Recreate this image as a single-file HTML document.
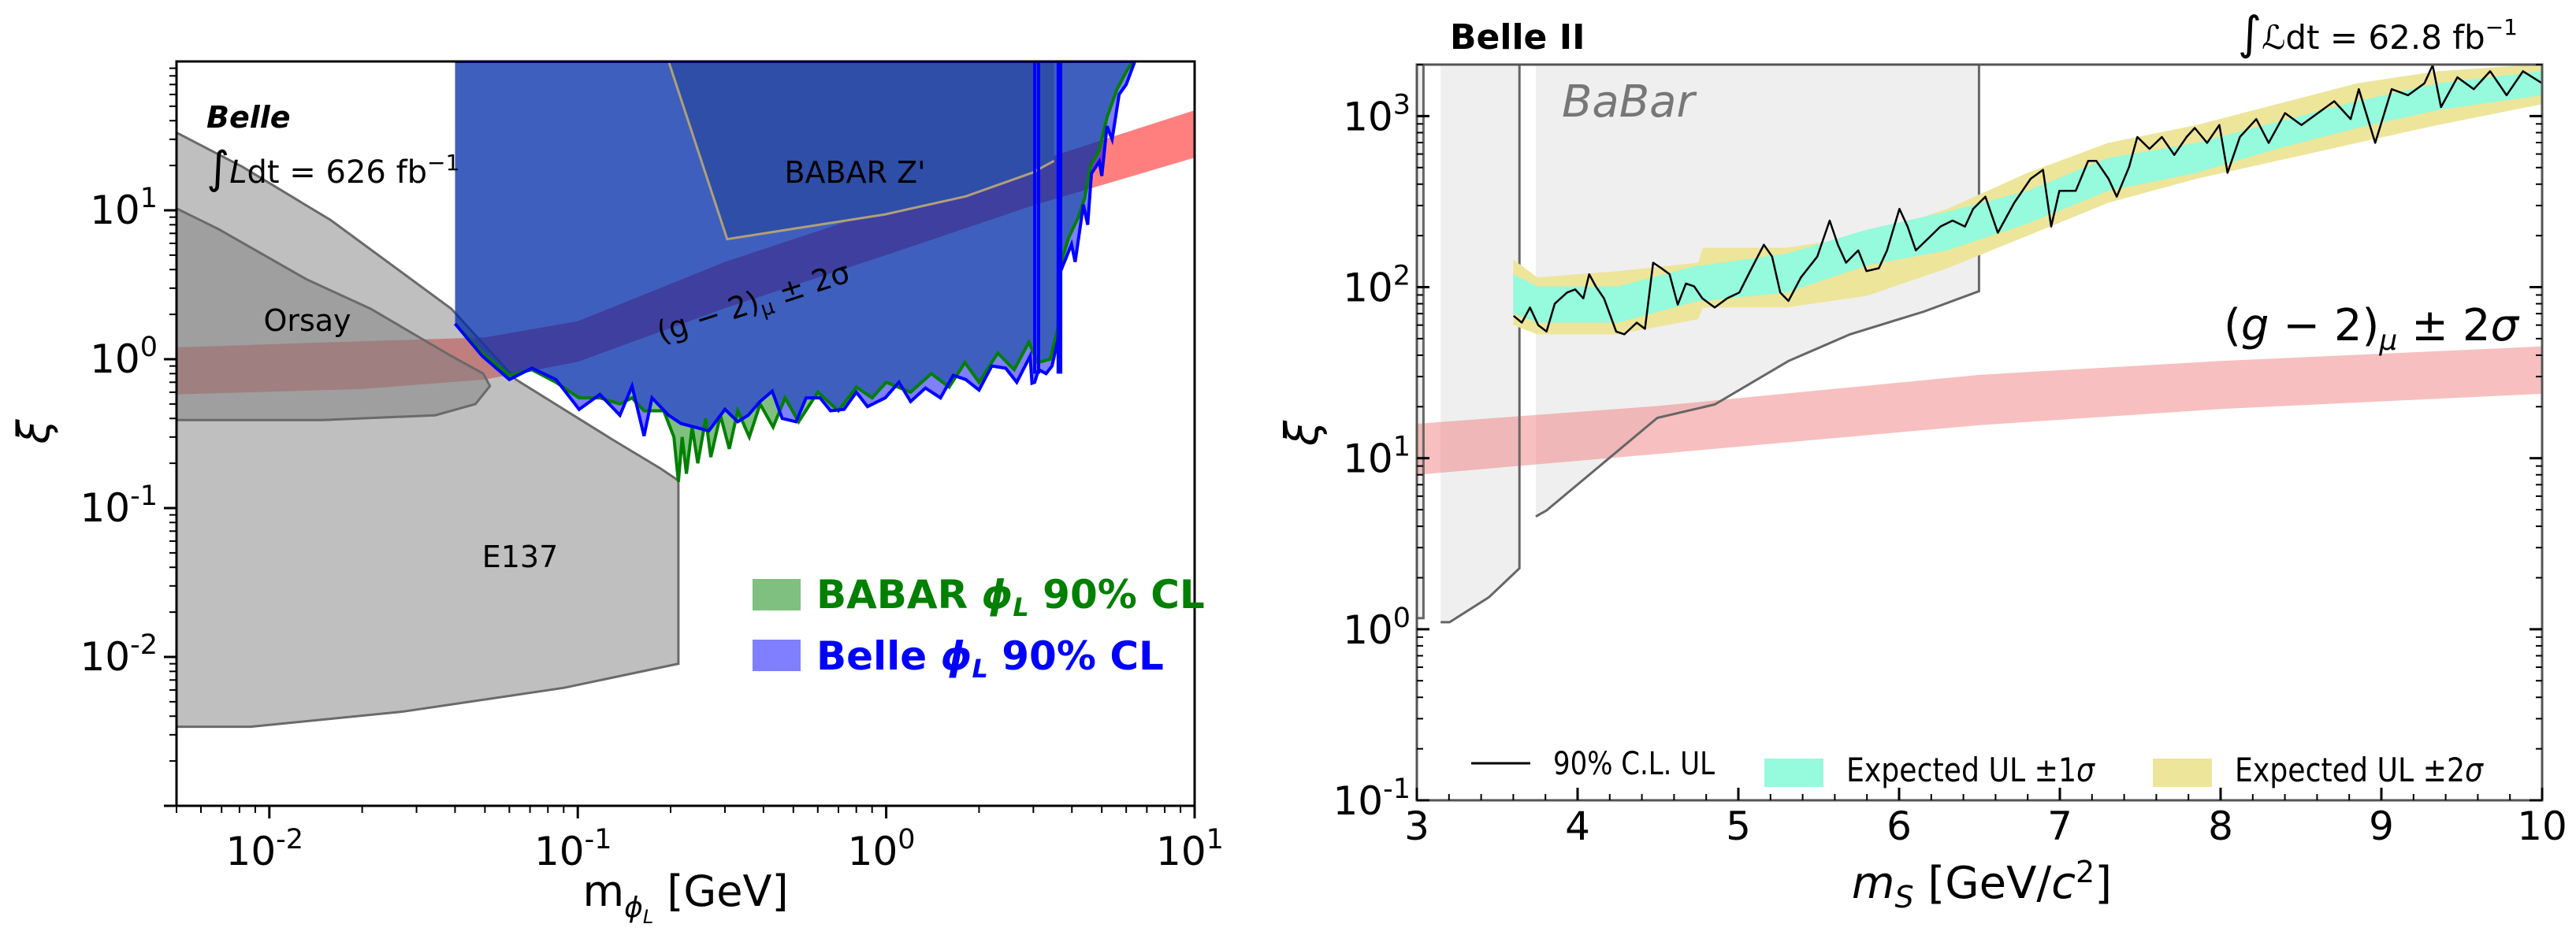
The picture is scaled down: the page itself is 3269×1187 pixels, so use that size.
<!DOCTYPE html>
<html><head><meta charset="utf-8">
<style>
html,body{margin:0;padding:0;background:#fff;}
svg{display:block;font-family:"DejaVu Sans","Liberation Sans",sans-serif;}
</style></head>
<body>
<svg id="fig" xmlns="http://www.w3.org/2000/svg" width="3269" height="1187" viewBox="0 0 3269 1187">
<defs>
<clipPath id="clipL"><rect x="224" y="78" width="1292" height="945"/></clipPath>
<clipPath id="clipR"><rect x="1798" y="82" width="1428" height="934"/></clipPath>
</defs>
<rect width="3269" height="1187" fill="#fff"/>
<g id="left"></g>
<g id="right"></g>
</svg>
<script>
// ---------- LEFT CHART DATA ----------
const g2Mass=[0.005,0.02,0.05,0.1,0.3,1,3,10];
const g2Lo=[0.58,0.63,0.73,0.96,2.2,5.0,10.8,22.6];
const g2Hi=[1.2,1.32,1.4,1.8,4.5,10.3,21,47];
const e137Mass=[0.005,0.00818,0.0158,0.0389,0.063,0.129,0.185,0.212,0.212,0.0902,0.0272,0.0087,0.005];
const e137Xi=[33.3,19.6,8.6,2.18,0.73,0.29,0.185,0.153,0.0090,0.0062,0.0043,0.0034,0.0034];
const orsayMass=[0.005,0.00682,0.0132,0.0213,0.0389,0.0494,0.0519,0.0466,0.0345,0.0149,0.005];
const orsayXi=[10.3,7.5,3.44,2.18,1.05,0.80,0.66,0.50,0.42,0.39,0.39];
const zpMass=[0.197,0.305,0.993,1.81,2.98,3.5,3.5];
const zpXi=[100,6.4,9.4,12.4,17.9,21.5,100];
const belleMass=[0.040,0.049,0.060,0.071,0.085,0.101,0.118,0.137,0.150,0.164,0.174,0.197,0.216,0.266,0.300,0.33,0.357,0.39,0.427,0.46,0.510,0.55,0.610,0.66,0.730,0.8,0.87,0.993,1.1,1.2,1.34,1.5,1.65,1.81,2.0,2.2,2.44,2.65,2.93,2.97,3.03,3.12,3.3,3.45,3.61,3.66,3.99,4.1,4.36,4.5,4.63,4.91,5.0,5.2,5.4,5.69,6.0,6.4];
const belleXi=[1.73,1.05,0.73,0.87,0.73,0.46,0.58,0.42,0.66,0.305,0.55,0.42,0.37,0.33,0.46,0.38,0.42,0.52,0.61,0.40,0.38,0.55,0.55,0.45,0.46,0.6,0.48,0.55,0.7,0.52,0.64,0.55,0.78,0.73,0.62,0.9,0.87,0.7,1.05,0.69,0.7,0.85,0.8,0.9,1.38,3.8,5.9,4.5,10.9,8,17.7,21.3,17,36.8,30,60,70,100];
const babarMass=[0.040,0.049,0.060,0.071,0.085,0.101,0.118,0.137,0.150,0.164,0.19,0.205,0.212,0.218,0.225,0.235,0.245,0.26,0.27,0.29,0.31,0.33,0.36,0.39,0.43,0.47,0.52,0.6,0.7,0.8,0.9,1.0,1.2,1.4,1.6,1.8,2.0,2.3,2.6,2.9,3.1,3.4,3.6,3.66,3.9,4.2,4.4,4.6,4.9,5.2,5.6,6.0,6.3];
const babarXi=[1.73,1.1,0.78,0.85,0.7,0.55,0.55,0.5,0.55,0.45,0.45,0.3,0.15,0.3,0.17,0.35,0.2,0.4,0.22,0.42,0.25,0.45,0.3,0.5,0.35,0.55,0.38,0.6,0.45,0.65,0.55,0.7,0.6,0.8,0.65,0.95,0.7,1.1,0.85,1.3,0.95,1.0,1.6,4.2,6.5,9,12,20,25,42,65,85,100];
const vetoMass=[3.03,3.12,3.61,3.68];
const lxTicks=[0.01,0.1,1,10];
const lxLabels=["-2","-1","0","1"];
const lyTicks=[0.01,0.1,1,10];
const lyLabels=["-2","-1","0","1"];

// ---------- RIGHT CHART DATA ----------
const babarRM1=[3.0,3.041,3.041,3.0];
const babarRX1=[2000,2000,1.16,1.16];
const babarRM2=[3.148,3.148,3.204,3.449,3.638,3.638];
const babarRX2=[2000,1.10,1.10,1.54,2.27,2000];
const babarRM3=[3.74,3.74,3.807,4.496,4.853,5.312,5.695,6.155,6.497,6.497];
const babarRX3=[2000,4.56,4.95,17.2,20.6,37,53,72,94.7,2000];
const rg2Mass=[3,4.5,6.5,8,10];
const rg2Lo=[8.0,10.6,15.6,19.4,23.8];
const rg2Hi=[15.9,20.2,30.7,37,45];
const bandMass=[3.6,3.75,4.25,4.75,4.78,5.3,5.8,6.3,6.8,7.3,7.85,8.35,8.85,9.35,10];
const y2Lo=[60,53,53,65,76,76,89,129,200,311,430,547,697,887,1175];
const y2Hi=[145,114,124,139,170,170,200,287,466,697,887,1175,1556,1829,2014];
const g1Lo=[70,62,62,83,83,93,134,164,235,366,466,643,852,1084,1324];
const g1Hi=[119,101,101,134,134,157,217,276,366,569,697,923,1222,1556,1829];
const obsMass=[3.602,3.653,3.704,3.755,3.807,3.858,3.934,3.985,4.036,4.072,4.113,4.164,4.24,4.291,4.368,4.419,4.47,4.521,4.572,4.623,4.674,4.725,4.776,4.853,4.93,5.006,5.083,5.159,5.21,5.261,5.312,5.389,5.491,5.568,5.619,5.67,5.746,5.797,5.874,5.925,6.002,6.053,6.104,6.18,6.257,6.333,6.41,6.461,6.537,6.614,6.716,6.818,6.895,6.946,6.997,7.099,7.176,7.227,7.303,7.354,7.431,7.482,7.558,7.635,7.712,7.788,7.839,7.916,7.992,8.043,8.12,8.222,8.299,8.401,8.503,8.605,8.707,8.809,8.86,8.962,9.064,9.166,9.268,9.319,9.371,9.473,9.575,9.677,9.779,9.881,10];
const obsXi=[68,62,76,60,55,80,93,97,86,119,101,86,55,53,62,57,139,129,119,79,105,101,86,76,86,93,129,177,151,93,83,114,151,245,177,139,164,124,129,164,287,226,164,192,226,245,226,287,338,208,311,430,485,226,366,366,547,547,430,338,505,755,643,755,593,755,852,697,887,466,755,960,697,1041,887,1041,1222,960,1436,697,1436,1324,1556,1982,1128,1687,1436,1829,1324,1829,1556];
const rxTicks=[3,4,5,6,7,8,9,10];
const ryTicks=[0.1,1,10,100,1000];
const ryLabels=["-1","0","1","2","3"];

// ---------- SCALES ----------
const LX0=224,LX1=1516,LY0=78,LY1=1023;
const lxs=m=>LX0+(Math.log10(m)-Math.log10(0.005))/(Math.log10(10)-Math.log10(0.005))*(LX1-LX0);
const lys=v=>LY0+(2-Math.log10(v))/5*(LY1-LY0);
const RX0=1798,RX1=3226,RY0=82,RY1=1016;
const rxs=m=>RX0+(m-3)/7*(RX1-RX0);
const rys=v=>RY0+(Math.log10(2000)-Math.log10(v))/(Math.log10(2000)+1)*(RY1-RY0);

const NS="http://www.w3.org/2000/svg";
function mk(tag,attrs,parent){const e=document.createElementNS(NS,tag);for(const k in attrs)e.setAttribute(k,attrs[k]);parent.appendChild(e);return e;}
function pts(ms,vs,xs,ys){return ms.map((m,i)=>xs(m).toFixed(1)+","+ys(vs[i]).toFixed(1)).join(" ");}
function bandPts(ms,lo,hi,xs,ys){return pts(ms,hi,xs,ys)+" "+pts(ms.slice().reverse(),lo.slice().reverse(),xs,ys);}
function supText(parent,x,y,base,sup,size,anchor){
  const t=mk("text",{x:x,y:y,"font-size":size,"text-anchor":anchor||"middle",fill:"#000"},parent);
  t.appendChild(document.createTextNode(base));
  const s=mk("tspan",{dy:-size*0.42,"font-size":size*0.7},t);s.textContent=sup;
  return t;
}

// ---------- LEFT CHART ----------
const L=document.getElementById("left");
const Lc=mk("g",{"clip-path":"url(#clipL)"},L);
let e;
e=mk("polygon",{points:bandPts(g2Mass,g2Lo,g2Hi,lxs,lys),fill:"#ff0000","fill-opacity":"0.5"},Lc);


e=mk("polygon",{points:pts(e137Mass,e137Xi,lxs,lys),fill:"#808080","fill-opacity":"0.5",stroke:"#6a6a6a","stroke-width":"3"},Lc);


e=mk("polygon",{points:pts(orsayMass,orsayXi,lxs,lys),fill:"#808080","fill-opacity":"0.5",stroke:"#6a6a6a","stroke-width":"3"},Lc);


e=mk("polygon",{points:pts(zpMass,zpXi,lxs,lys),fill:"#b8b8a2"},Lc);


const babarPoly=pts(babarMass,babarXi,lxs,lys)+" "+lxs(0.040)+","+lys(100);
const bellePoly=pts(belleMass,belleXi,lxs,lys)+" "+lxs(0.040)+","+lys(100);
e=mk("polygon",{points:babarPoly,fill:"#008000","fill-opacity":"0.5"},Lc);


e=mk("polygon",{points:bellePoly,fill:"#0000ff","fill-opacity":"0.5"},Lc);


e=mk("polyline",{points:pts(zpMass.slice(0,6),zpXi.slice(0,6),lxs,lys),fill:"none",stroke:"#b0a078","stroke-width":"3"},Lc);


e=mk("polyline",{points:babarPoly,fill:"none",stroke:"#008000","stroke-width":"4"},Lc);


e=mk("polyline",{points:bellePoly,fill:"none",stroke:"#0000ff","stroke-width":"4"},Lc);


vetoMass.forEach(m=>{
  const v=mk("line",{x1:lxs(m),x2:lxs(m),y1:lys(100),y2:lys(0.8),stroke:"#0000ff","stroke-width":"4"},Lc);
  
  
});
e=mk("rect",{x:LX0,y:LY0,width:LX1-LX0,height:LY1-LY0,fill:"none",stroke:"#000","stroke-width":"3"},L);


for(let d=-3;d<=1;d++){for(let k=1;k<10;k++){const m=k*Math.pow(10,d);if(m<0.005-1e-9||m>10+1e-9)continue;
  const x=lxs(m);const len=k===1?16:9;
  const t=mk("line",{x1:x,x2:x,y1:LY1,y2:LY1+len,stroke:"#000","stroke-width":k===1?3:2},L);
  
  }}
lxTicks.forEach((m,i)=>{const t=supText(L,lxs(m)-6,1098,"10",lxLabels[i],50);
  
  });
for(let d=-3;d<=1;d++){for(let k=1;k<10;k++){const v=k*Math.pow(10,d);if(v>100)continue;
  const y=lys(v);const len=k===1?16:9;
  const t=mk("line",{x1:LX0-len,x2:LX0,y1:y,y2:y,stroke:"#000","stroke-width":k===1?3:2},L);
  
  }}
lyTicks.forEach((v,i)=>{const t=supText(L,200,lys(v)+17,"10",lyLabels[i],50,"end");
  
  });
e=mk("text",{x:0,y:0,"font-size":56,"font-style":"italic",transform:"translate(62,548) rotate(-90)","text-anchor":"middle"},L);
e.textContent="ξ";


e=mk("text",{x:870,y:1150,"font-size":54,"text-anchor":"middle"},L);
e.innerHTML='m<tspan dy="14" font-size="36" font-style="italic">ϕ</tspan><tspan dy="8" font-size="24" font-style="italic">L</tspan><tspan dy="-22"> [GeV]</tspan>';


e=mk("text",{x:262,y:162,"font-size":38,"font-weight":"bold","font-style":"italic"},L);e.textContent="Belle";


e=mk("text",{x:262,y:232,"font-size":40},L);
e.innerHTML='<tspan font-size="56">∫</tspan><tspan font-style="italic">L</tspan>dt  =  626 fb<tspan dy="-16" font-size="28">−1</tspan>';


e=mk("text",{x:390,y:420,"font-size":38,"text-anchor":"middle"},L);e.textContent="Orsay";


e=mk("text",{x:660,y:720,"font-size":38,"text-anchor":"middle"},L);e.textContent="E137";


e=mk("text",{x:1085,y:232,"font-size":38,"text-anchor":"middle"},L);e.textContent="BABAR Z'";


e=mk("text",{x:0,y:0,"font-size":38,"text-anchor":"middle",transform:"translate(960,396) rotate(-18)"},L);
e.innerHTML='(g − 2)<tspan dy="8" font-size="26">μ</tspan><tspan dy="-8"> ± 2σ</tspan>';


e=mk("rect",{x:955,y:735,width:61,height:40,fill:"#008000","fill-opacity":"0.5"},L);


e=mk("text",{x:1036,y:772,"font-size":50,"font-weight":"bold",fill:"#008000"},L);
e.innerHTML='BABAR <tspan font-style="italic">ϕ</tspan><tspan dy="10" font-size="32" font-style="italic">L</tspan><tspan dy="-10"> 90% CL</tspan>';


e=mk("rect",{x:955,y:812,width:61,height:40,fill:"#0000ff","fill-opacity":"0.5"},L);


e=mk("text",{x:1036,y:850,"font-size":50,"font-weight":"bold",fill:"#0000ff"},L);
e.innerHTML='Belle <tspan font-style="italic">ϕ</tspan><tspan dy="10" font-size="32" font-style="italic">L</tspan><tspan dy="-10"> 90% CL</tspan>';



// ---------- RIGHT CHART ----------
const R=document.getElementById("right");
const Rc=mk("g",{"clip-path":"url(#clipR)"},R);
[[babarRM1,babarRX1],[babarRM2,babarRX2],[babarRM3,babarRX3]].forEach(p=>{
  const b=mk("polygon",{points:pts(p[0],p[1],rxs,rys),fill:"#efefef"},Rc);
  
  
});
e=mk("polygon",{points:bandPts(rg2Mass,rg2Lo,rg2Hi,rxs,rys),fill:"#f08080","fill-opacity":"0.5"},Rc);


[[babarRM1,babarRX1],[babarRM2,babarRX2],[babarRM3,babarRX3]].forEach(p=>{
  const b=mk("polyline",{points:pts(p[0].slice(1),p[1].slice(1),rxs,rys),fill:"none",stroke:"#666","stroke-width":"3"},Rc);
  
  
});
e=mk("polygon",{points:bandPts(bandMass,y2Lo,y2Hi,rxs,rys),fill:"#ede59a"},Rc);


e=mk("polygon",{points:bandPts(bandMass,g1Lo,g1Hi,rxs,rys),fill:"#96fadc"},Rc);


e=mk("polyline",{points:pts(obsMass,obsXi,rxs,rys),fill:"none",stroke:"#000","stroke-width":"2.5","stroke-linejoin":"round"},Rc);


e=mk("rect",{x:RX0,y:RY0,width:RX1-RX0,height:RY1-RY0,fill:"none",stroke:"#555","stroke-width":"3"},R);


for(let m=3;m<=10.001;m+=0.2){const x=rxs(m);const maj=Math.abs(m-Math.round(m))<1e-6;
  const t=mk("line",{x1:x,x2:x,y1:RY1,y2:RY1-(maj?16:8),stroke:"#000","stroke-width":maj?3:2},R);
  
  }
rxTicks.forEach(m=>{const t=mk("text",{x:rxs(m),y:1066,"font-size":50,"text-anchor":"middle"},R);t.textContent=String(m);
  
  });
for(let d=-1;d<=3;d++){for(let k=1;k<10;k++){const v=k*Math.pow(10,d);if(v>2000)continue;
  const y=rys(v);const len=k===1?16:8;
  [[RX0,RX0+len],[RX1,RX1-len]].forEach(s=>{
    const t=mk("line",{x1:s[0],x2:s[1],y1:y,y2:y,stroke:"#000","stroke-width":k===1?3:2},R);
    
    });}}
ryTicks.forEach((v,i)=>{const t=supText(R,1790,rys(v)+18,"10",ryLabels[i],50,"end");
  
  });
e=mk("text",{x:0,y:0,"font-size":58,"font-style":"italic",transform:"translate(1672,550) rotate(-90)","text-anchor":"middle"},R);
e.textContent="ξ";


e=mk("text",{x:2515,y:1140,"font-size":56,"text-anchor":"middle"},R);
e.innerHTML='<tspan font-style="italic">m</tspan><tspan dy="12" font-size="38" font-style="italic">S</tspan><tspan dy="-12"> [GeV/</tspan><tspan font-style="italic">c</tspan><tspan dy="-20" font-size="38">2</tspan><tspan dy="20">]</tspan>';


e=mk("text",{x:1840,y:62,"font-size":44,"font-weight":"bold"},R);e.textContent="Belle II";


e=mk("text",{x:3195,y:62,"font-size":42,"text-anchor":"end"},R);
e.innerHTML='<tspan font-size="58">∫</tspan><tspan font-style="italic">ℒ</tspan>dt = 62.8 fb<tspan dy="-18" font-size="28">−1</tspan>';


e=mk("text",{x:1982,y:148,"font-size":56,"font-style":"italic",fill:"#777"},R);e.textContent="BaBar";


e=mk("text",{x:2822,y:432,"font-size":56},R);
e.innerHTML='(<tspan font-style="italic">g</tspan> − 2)<tspan dy="12" font-size="36" font-style="italic">μ</tspan><tspan dy="-12"> ± 2</tspan><tspan font-style="italic">σ</tspan>';


e=mk("line",{x1:1867,x2:1942,y1:969,y2:969,stroke:"#000","stroke-width":"3"},R);


e=mk("text",{x:1971,y:983,"font-size":40,textLength:205,lengthAdjust:"spacingAndGlyphs"},R);e.textContent="90% C.L. UL";


e=mk("rect",{x:2239,y:963,width:75,height:36,fill:"#96fadc"},R);


e=mk("text",{x:2343,y:992,"font-size":42,textLength:315,lengthAdjust:"spacingAndGlyphs"},R);
e.innerHTML='Expected UL ±1<tspan font-style="italic">σ</tspan>';


e=mk("rect",{x:2732,y:963,width:75,height:36,fill:"#ede59a"},R);


e=mk("text",{x:2836,y:992,"font-size":42,textLength:315,lengthAdjust:"spacingAndGlyphs"},R);
e.innerHTML='Expected UL ±2<tspan font-style="italic">σ</tspan>';


</script>
</body></html>
